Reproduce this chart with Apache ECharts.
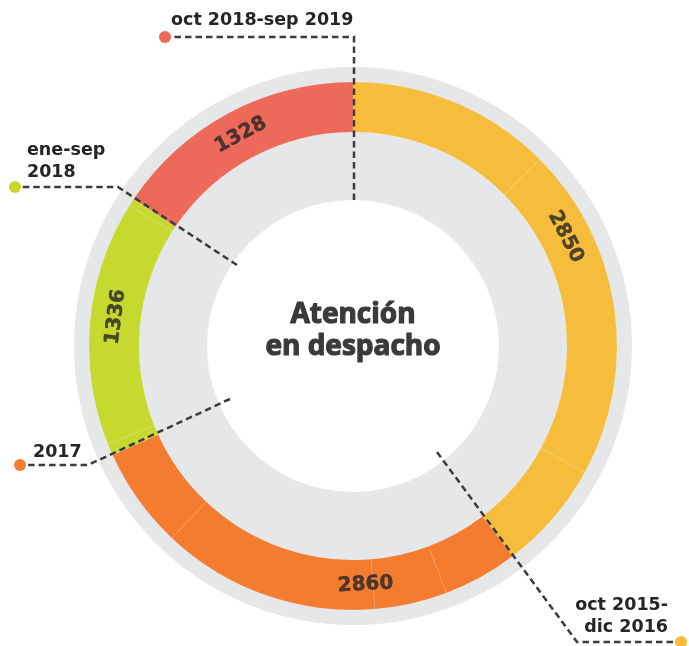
<!DOCTYPE html>
<html>
<head>
<meta charset="utf-8">
<script src="https://cdn.jsdelivr.net/npm/echarts@6/dist/echarts.min.js"></script>
<style>
  html, body { margin: 0; padding: 0; background: #fff; }
  #chart { width: 689px; height: 646px; }
</style>
</head>
<body>
<div id="chart"></div>
<script>
// periodos y totales de atención en despacho
const periods = ['oct 2015-dic 2016', '2017', 'ene-sep 2018', 'oct 2018-sep 2019'];
const totals = [2850, 2860, 1336, 1328];

// tramos del anillo tal como están dibujados (grados), por periodo
const arcsYellow = [45, 73.6, 24.2];
const arcsOrange = [16.5, 15.9, 48.1, 22.3];
const arcsGreen = [2.6, 54, 1.7];
const arcsRed = [56.1];

const colors = ['#f6bc3b', '#f37c30', '#c6d92e', '#ed6a5a'];
const grey = '#e6e7e8';
const ink = '#262425';
const cx = 353, cy = 346;

// posición de las etiquetas sobre el anillo (ángulo, giro)
const labelPos = [[62.8, -62.8], [177, 3], [277, 83], [332, 28]];

let myChart = echarts.init(document.getElementById('chart'));

const ringData = [];
[arcsYellow, arcsOrange, arcsGreen, arcsRed].forEach((arcs, i) => {
    arcs.forEach((v) => {
        ringData.push({ value: v, name: periods[i], itemStyle: { color: colors[i] } });
    });
});

const labelData = totals.map((t, i) => ({
    value: [239, labelPos[i][0]],
    label: { rotate: labelPos[i][1], formatter: String(t) }
}));

function dash(points) {
    return {
        type: 'polyline',
        z: 100,
        shape: { points: points },
        style: { stroke: '#3c3c3c', lineWidth: 2.5, lineDash: [6.5, 4], fill: null },
        silent: true
    };
}
function dot(x, y, c) {
    return { type: 'circle', z: 101, shape: { cx: x, cy: y, r: 6 }, style: { fill: c }, silent: true };
}
function txt(x, y, s, align) {
    return {
        type: 'text',
        z: 101,
        style: {
            x: x, y: y, text: s, fill: ink,
            font: 'bold 17.5px "DejaVu Sans"',
            textAlign: align || 'left', textVerticalAlign: 'middle', lineHeight: 22
        },
        silent: true
    };
}

const option = {
    animation: false,
    polar: { center: [cx, cy], radius: 264 },
    angleAxis: { type: 'value', min: 0, max: 360, startAngle: 90, clockwise: true, show: false },
    radiusAxis: { type: 'value', min: 0, max: 264, show: false },
    series: [
        {
            type: 'pie',
            silent: true,
            center: [cx, cy],
            radius: [146, 279],
            label: { show: false },
            labelLine: { show: false },
            data: [{ value: 1, itemStyle: { color: grey } }]
        },
        {
            type: 'pie',
            silent: true,
            center: [cx, cy],
            radius: [214, 264],
            startAngle: 90,
            clockwise: true,
            label: { show: false },
            labelLine: { show: false },
            itemStyle: { borderColor: 'rgba(255,255,255,0.22)', borderWidth: 0.5 },
            data: ringData
        },
        {
            type: 'scatter',
            coordinateSystem: 'polar',
            symbolSize: 0,
            silent: true,
            label: {
                show: true,
                position: 'inside',
                color: ink,
                fontFamily: 'DejaVu Sans',
                fontWeight: 'bold',
                fontSize: 20,
                textBorderColor: ink,
                textBorderWidth: 0.4
            },
            data: labelData,
            z: 5
        }
    ],
    graphic: [
        dash([[354, 200], [354, 37], [165, 37]]),
        dash([[237, 265], [118, 187], [15, 187]]),
        dash([[230, 399], [88, 465], [20, 465]]),
        dash([[437, 452], [577, 642], [681, 642]]),
        dot(165, 37, colors[3]),
        dot(15, 187, colors[2]),
        dot(20, 465, colors[1]),
        dot(681, 642, colors[0]),
        txt(171, 20, periods[3]),
        txt(27, 161, 'ene-sep\n2018'),
        txt(33, 452, periods[1]),
        txt(668, 616, 'oct 2015-\ndic 2016', 'right'),
        {
            type: 'text',
            z: 101,
            style: {
                x: cx, y: 331, text: 'Atención\nen despacho', fill: '#3a3a3c',
                font: 'bold 28px "Open Sans"', textAlign: 'center', textVerticalAlign: 'middle',
                lineHeight: 32, stroke: '#3a3a3c', lineWidth: 1.2
            },
            silent: true
        }
    ]
};
myChart.setOption(option);
</script>
</body>
</html>
